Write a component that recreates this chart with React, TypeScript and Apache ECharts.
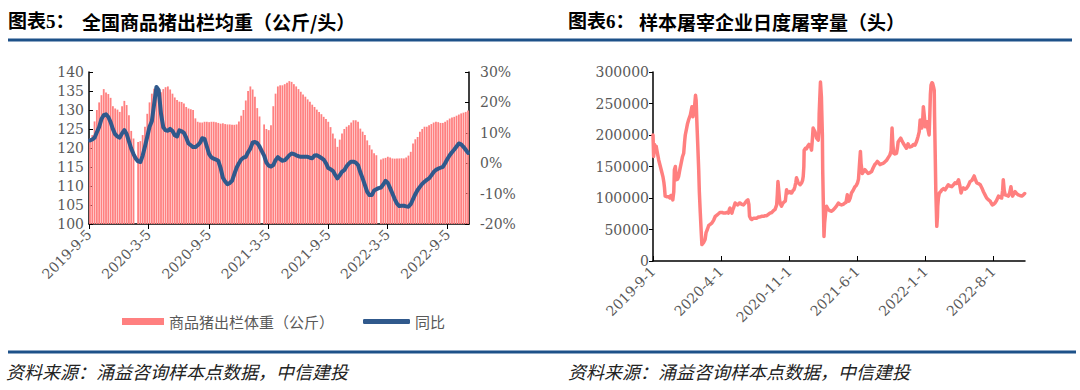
import React, { useEffect, useRef } from 'react';
import * as echarts from 'echarts';

const DAY = 86400000;

// ---- Chart 5: weekly hog slaughter weight ----
const weightStartDate = '2019-9-8';
const weightKg = [
  122.5, 123.4, 127, 130, 132, 133.9, 135.5, 134.6, 134.2, 133.2,
  131, 130.4, 130.1, 129.5, 131, 132.4, 131.3, 128.6, 124.5, 122.5,
  null, 121.6, 121.8, 123.4, 125.6, 129, 132, 134.3, 135.6, 134.7,
  134.7, 134.7, 135.5, 136, 136.2, 135.4, 134.3, 133.3, 132.6, 132.2,
  132.1, 131.7, 130.8, 130.4, 130.2, 130, 127.8, 126.9, 126.7, 126.7,
  126.9, 126.9, 126.8, 126.9, 126.9, 126.8, 126.6, 126.4, 126.5, 126.3,
  126.2, 126.2, 126.1, 126.1, 126.2, 127.0, 128.5, 130, 132.5, 135,
  136.2, 135.4, 133.5, 130.5, 128.3, null, 126.2, 125, 124.7, 126,
  131, 134.3, 136.2, 136.5, 136.5, 136.8, 137.2, 137.6, 137.4, 136.8,
  136.2, 135.5, 134.8, 134.1, 133.5, 132.8, 132.2, 131.4, 130.8, 130.1,
  129.5, 128.9, 128.2, 127.6, 126.9, 125.5, 123.8, 122.5, 120.3, 122.2,
  123.8, 125, 125.6, 126, 126.7, 127.3, 127.3, 126.9, 125.1, 124.3,
  123.4, 122, 120.75, 119.6, 118.6, 118.1, null, 117, 117.25, 117.4,
  117.7, 117.5, 117.25, 117.2, 117.25, 117.25, 117.3, 117.25, 117.5, 118,
  119, 121.2, 122.3, 122.9, 124.25, 125, 125.6, 125.6, 126, 126.3,
  126.7, 126.9, 126.8, 126.6, 126.6, 126.9, 127.3, 127.75, 128, 128.2,
  128.5, 128.8, 129.1, 129.3, 129.5, 129.9,
];
const weightYoY = [
  7.5, 7.8, 8.4, 10.2, 11.9, 14.5, 15.8, 16.1, 15.2, 13.5,
  11.2, 9.5, 8.8, 8.4, 9.8, 10.9, 9.6, 7.2, 4.8, 3.0,
  1.5, 0.6, 0.4, 2.5, 5.5, 8.7, 12.0, 13.8, 19.5, 25.1,
  24.0, 16.3, 11.8, 10.8, 10.7, 11.3, 10.6, 9.2, 8.8, 10.8,
  10.5, 10.0, 8.4, 6.5, 5.9, 5.3, 5.3, 5.9, 6.7, 8.2,
  8.0, 5.5, 3.0, 1.9, 1.5, 1.2, 0.8, -1.5, -4.8, -6.0,
  -6.9, -6.5, -5.8, -3.6, -1.5, 0.0, 1.2, 1.8, 2.1, 3.6,
  4.8, 6.8, 7.0, 6.6, 5.5, 4.0, 2.5, 0.2, -0.8, -1.1,
  -0.6, 1.0, 2.0, 1.3, 0.8, 1.0, 1.7, 2.6, 3.2, 3.0,
  2.6, 2.3, 2.1, 2.1, 2.1, 2.1, 1.8, 1.6, 2.5, 2.6,
  2.2, 1.7, 1.2, 0.0, -1.6, -2.0, -2.5, -3.8, -5.0, -4.0,
  -2.8, -2.3, -1.0, -0.1, 0.5, 0.5, 0.2, -0.6, -3.0, -5.0,
  -7.2, -9.4, -10.5, -10.5, -9.0, -8.6, -8.2, -8.0, -7.0, -5.8,
  -6.5, -8.2, -10.0, -11.8, -13.3, -14.1, -14.0, -14.0, -14.2, -14.3,
  -13.5, -11.8, -10.2, -8.8, -7.8, -6.8, -6.1, -5.5, -5.0, -4.0,
  -2.9, -2.2, -1.8, -1.5, -1.2, 0.0, 1.4, 2.6, 3.6, 4.5,
  5.5, 6.5, 6.2, 5.4, 4.4, 3.4,
];
const leftTickLabels = ['2019-9-5', '2020-3-5', '2020-9-5', '2021-3-5', '2021-9-5', '2022-3-5', '2022-9-5'];
const leftAxisMin = '2019-9-5';
const leftAxisMax = '2022-11-9';

// ---- Chart 6: daily slaughter volume (days since 2019-9-1) ----
const slaughterStartDate = '2019-9-1';
const slaughterDays = [
  0, 2, 5, 7, 10, 12, 15, 18, 23, 27, 31, 34, 36, 38, 44, 49, 53, 56, 60, 62,
  65, 67, 70, 72, 73, 77, 80, 84, 88, 92, 96, 99, 101, 105, 108, 112, 117, 120, 122, 125,
  128, 130, 133, 135, 137, 140, 143, 145, 148, 151, 153, 158, 163, 166, 170, 174, 179, 184, 190, 195,
  200, 205, 210, 216, 221, 226, 231, 236, 239, 241, 244, 247, 250, 252, 257, 261, 265, 270, 273, 278,
  283, 288, 292, 297, 300, 302, 306, 309, 315, 320, 325, 330, 335, 341, 346, 351, 356, 361, 366, 372,
  377, 382, 387, 389, 391, 393, 396, 399, 402, 405, 407, 411, 414, 418, 421, 423, 428, 431, 434, 438,
  441, 444, 447, 449, 452, 454, 457, 460, 465, 468, 470, 472, 473, 477, 480, 484, 488, 491, 494, 496,
  499, 501, 504, 507, 510, 512, 517, 519, 520, 522, 524, 527, 528, 530, 531, 533, 535, 537, 540, 543,
  546, 548, 553, 559, 564, 569, 574, 580, 585, 590, 595, 600, 604, 608, 611, 613, 617, 621, 626, 632,
  636, 640, 643, 645, 647, 649, 651, 655, 659, 663, 668, 673, 678, 684, 689, 694, 698, 702, 706, 710,
  715, 720, 725, 731, 736, 741, 745, 748, 750, 753, 757, 762, 765, 767, 771, 775, 779, 783, 788, 793,
  798, 803, 810, 815, 820, 825, 829, 833, 836, 839, 841, 844, 846, 849, 852, 855, 857, 860, 864, 866,
  868, 870, 873, 875, 878, 880, 881, 883, 885, 888, 890, 891, 893, 896, 900, 904, 909, 914, 919, 924,
  929, 935, 940, 945, 950, 956, 960, 964, 967, 971, 976, 982, 987, 992, 998, 1005, 1009, 1013, 1018, 1024,
  1029, 1034, 1039, 1044, 1050, 1055, 1058, 1062, 1066, 1070, 1075, 1081, 1086, 1091, 1094, 1096, 1099, 1102, 1107, 1112,
  1116, 1120, 1123, 1125, 1129, 1133, 1138, 1143, 1148, 1154, 1159, 1163,
];
const slaughterHeads = [
  200000, 166000, 185000, 179000, 182000, 176000, 168000, 160000, 150000, 142000, 134000, 125000, 116000, 103000, 102000, 102000, 100000, 104000, 100000, 97000,
  110000, 145000, 150000, 135000, 129000, 130000, 134000, 145000, 155000, 165000, 171000, 190000, 200000, 210000, 218000, 225000, 232000, 240000, 245000, 229000,
  238000, 245000, 263000, 255000, 224000, 185000, 145000, 110000, 76000, 45000, 26000, 29000, 34000, 45000, 50000, 56000, 58000, 60000, 65000, 71000,
  73000, 75000, 77000, 77000, 76000, 76000, 77000, 76000, 82000, 84000, 80000, 76000, 82000, 84000, 92000, 90000, 89000, 92000, 92000, 90000,
  89000, 92000, 95000, 97000, 90000, 71000, 67000, 66000, 68000, 68000, 68000, 70000, 70000, 71000, 71000, 72000, 72000, 74000, 76000, 77000,
  80000, 82000, 89000, 105000, 126000, 115000, 97000, 90000, 87000, 90000, 92000, 94000, 95000, 113000, 109000, 108000, 110000, 108000, 108000, 112000,
  113000, 118000, 125000, 132000, 128000, 124000, 123000, 121000, 124000, 128000, 134000, 150000, 176000, 179000, 178000, 182000, 185000, 184000, 180000, 176000,
  195000, 211000, 208000, 205000, 199000, 195000, 192000, 205000, 234000, 260000, 284000, 260000, 239000, 200000, 145000, 90000, 39000, 60000, 76000, 87000,
  84000, 82000, 80000, 79000, 81000, 84000, 87000, 92000, 90000, 89000, 90000, 92000, 93000, 105000, 98000, 95000, 100000, 108000, 112000, 118000,
  120000, 124000, 130000, 145000, 160000, 174000, 155000, 139000, 142000, 145000, 142000, 139000, 140000, 142000, 148000, 153000, 155000, 158000, 156000, 153000,
  154000, 155000, 157000, 160000, 164000, 168000, 175000, 211000, 190000, 171000, 170000, 171000, 180000, 189000, 192000, 195000, 191000, 187000, 183000, 179000,
  186000, 181000, 182000, 185000, 184000, 190000, 197000, 205000, 224000, 215000, 211000, 225000, 245000, 230000, 213000, 218000, 221000, 210000, 200000, 230000,
  265000, 279000, 283000, 282000, 276000, 271000, 230000, 171000, 110000, 55000, 70000, 87000, 100000, 108000, 110000, 113000, 115000, 113000, 117000, 121000,
  119000, 118000, 121000, 124000, 123000, 129000, 120000, 108000, 113000, 116000, 114000, 116000, 120000, 126000, 128000, 135000, 129000, 124000, 123000, 121000,
  116000, 110000, 105000, 100000, 97000, 95000, 92000, 89000, 90000, 92000, 96000, 103000, 101000, 100000, 112000, 129000, 112000, 105000, 104000, 103000,
  108000, 118000, 108000, 103000, 107000, 110000, 107000, 105000, 104000, 103000, 105000, 107000,
];
const rightTickLabels = ['2019-9-1', '2020-4-1', '2020-11-1', '2021-6-1', '2022-1-1', '2022-8-1'];
const rightAxisMin = '2019-9-1';
const rightAxisMax = '2022-11-8';

const toTs = (s: string) => {
  const [y, m, d] = s.split('-').map(Number);
  return Date.UTC(y, m - 1, d);
};
const fmtDate = (t: number) => {
  const d = new Date(t);
  return `${d.getUTCFullYear()}-${d.getUTCMonth() + 1}-${d.getUTCDate()}`;
};

const NUM_FONT = '"DejaVu Serif", "Liberation Serif", serif';
const CJK_FONT = '"Noto Sans CJK SC", sans-serif';
const GRAY = '#595959';
const BLUE_RULE = '#1d5189';

export default function App() {
  const ref = useRef<HTMLDivElement>(null);
  useEffect(() => {
    if (!ref.current) return;
    const chart = echarts.init(ref.current, undefined, { renderer: 'svg' });
    const wStart = toTs(weightStartDate);
    const barData = weightKg
      .map((v, i) => [wStart + i * 7 * DAY, v])
      .filter((p) => p[1] !== null);
    const yoyData = weightYoY.map((v, i) => [wStart + i * 7 * DAY, v]);
    const sStart = toTs(slaughterStartDate);
    const slaughterData = slaughterDays.map((d, i) => [sStart + d * DAY, slaughterHeads[i]]);

    const numLabel = { fontFamily: NUM_FONT, fontSize: 14, color: GRAY };

    chart.setOption({
      animation: false,
      backgroundColor: '#ffffff',
      grid: [
        { left: 89, top: 72, width: 380, height: 152 },
        { left: 653, top: 72, width: 372, height: 189 },
      ],
      xAxis: [
        {
          type: 'value',
          gridIndex: 0,
          min: toTs(leftAxisMin),
          max: toTs(leftAxisMax),
          splitLine: { show: false },
          axisLine: { show: true, onZero: false, lineStyle: { color: '#000', width: 1.5 } },
          axisTick: {
            show: true,
            inside: false,
            length: 5,
            lineStyle: { color: '#000' },
            customValues: leftTickLabels.map(toTs),
          },
          axisLabel: {
            ...numLabel,
            rotate: 45,
            margin: 8,
            customValues: leftTickLabels.map(toTs),
            formatter: (v: number) => fmtDate(v),
          },
        },
        {
          type: 'value',
          gridIndex: 1,
          min: toTs(rightAxisMin),
          max: toTs(rightAxisMax),
          splitLine: { show: false },
          axisLine: { show: true, onZero: false, lineStyle: { color: '#000', width: 1.5 } },
          axisTick: {
            show: true,
            inside: true,
            length: 5,
            lineStyle: { color: '#000' },
            customValues: rightTickLabels.map(toTs),
          },
          axisLabel: {
            ...numLabel,
            rotate: 45,
            margin: 8,
            customValues: rightTickLabels.map(toTs),
            formatter: (v: number) => fmtDate(v),
          },
        },
      ],
      yAxis: [
        {
          type: 'value',
          gridIndex: 0,
          min: 100,
          max: 140,
          interval: 5,
          startValue: 100,
          splitLine: { show: false },
          axisLine: { show: true, onZero: false, lineStyle: { color: '#000', width: 1.5 } },
          axisTick: { show: true, inside: true, length: 4, lineStyle: { color: '#000' } },
          axisLabel: { ...numLabel, margin: 5 },
        },
        {
          type: 'value',
          gridIndex: 0,
          position: 'right',
          min: -20,
          max: 30,
          interval: 10,
          splitLine: { show: false },
          axisLine: { show: true, onZero: false, lineStyle: { color: '#000', width: 1.5 } },
          axisTick: { show: true, inside: true, length: 4, lineStyle: { color: '#000' } },
          axisLabel: { ...numLabel, margin: 11, formatter: (v: number) => `${v}%` },
        },
        {
          type: 'value',
          gridIndex: 1,
          min: 0,
          max: 300000,
          interval: 50000,
          splitLine: { show: false },
          axisLine: { show: true, onZero: false, lineStyle: { color: '#000', width: 1.5 } },
          axisTick: { show: true, inside: false, length: 4, lineStyle: { color: '#000' } },
          axisLabel: { ...numLabel, margin: 4, formatter: (v: number) => String(v) },
        },
      ],
      legend: [
        {
          left: 117,
          top: 309,
          itemWidth: 42,
          itemHeight: 7,
          itemGap: 10,
          textStyle: { fontFamily: CJK_FONT, fontSize: 15, color: GRAY },
          data: [{ name: '商品猪出栏体重（公斤）', icon: 'rect' }],
        },
        {
          left: 358,
          top: 309,
          itemWidth: 47,
          itemHeight: 5,
          textStyle: { fontFamily: CJK_FONT, fontSize: 15, color: GRAY },
          data: [{ name: '同比', icon: 'roundRect' }],
        },
      ],
      series: [
        {
          name: '商品猪出栏体重（公斤）',
          type: 'bar',
          xAxisIndex: 0,
          yAxisIndex: 0,
          data: barData,
          barWidth: 1.8,
          itemStyle: { color: '#ff8080' },
          clip: true,
        },
        {
          name: '同比',
          type: 'line',
          xAxisIndex: 0,
          yAxisIndex: 1,
          data: yoyData,
          symbol: 'none',
          lineStyle: { color: '#30598c', width: 4, cap: 'round', join: 'round' },
          itemStyle: { color: '#30598c' },
        },
        {
          name: '样本屠宰企业日度屠宰量',
          type: 'line',
          xAxisIndex: 1,
          yAxisIndex: 2,
          data: slaughterData,
          symbol: 'none',
          lineStyle: { color: '#ff7f7f', width: 3.5, cap: 'round', join: 'round' },
          itemStyle: { color: '#ff7f7f' },
        },
      ],
      graphic: [
        {
          type: 'text',
          left: 8,
          top: 12,
          style: { text: '图表5：', font: `bold 19px "Liberation Serif", ${CJK_FONT}`, fill: '#000' },
        },
        {
          type: 'text',
          left: 82,
          top: 12,
          style: { text: '全国商品猪出栏均重（公斤/头）', font: `bold 19px ${CJK_FONT}`, fill: '#000' },
        },
        {
          type: 'text',
          left: 568,
          top: 12,
          style: { text: '图表6：', font: `bold 19px "Liberation Serif", ${CJK_FONT}`, fill: '#000' },
        },
        {
          type: 'text',
          left: 639,
          top: 12,
          style: { text: '样本屠宰企业日度屠宰量（头）', font: `bold 19px ${CJK_FONT}`, fill: '#000' },
        },
        {
          type: 'line',
          shape: { x1: 8, y1: 40, x2: 1072, y2: 40 },
          style: { stroke: BLUE_RULE, lineWidth: 3 },
        },
        {
          type: 'line',
          shape: { x1: 8, y1: 352, x2: 1076, y2: 352 },
          style: { stroke: BLUE_RULE, lineWidth: 3 },
        },
        {
          type: 'text',
          left: 6,
          top: 362,
          style: { text: '资料来源：涌益咨询样本点数据，中信建投', font: `italic 18px ${CJK_FONT}`, fill: '#222' },
        },
        {
          type: 'text',
          left: 568,
          top: 362,
          style: { text: '资料来源：涌益咨询样本点数据，中信建投', font: `italic 18px ${CJK_FONT}`, fill: '#222' },
        },
      ],
    });
    return () => chart.dispose();
  }, []);
  return (
    <div
      ref={ref}
      style={{ position: 'absolute', left: 0, top: 0, width: 1080, height: 390, background: '#fff' }}
    />
  );
}
